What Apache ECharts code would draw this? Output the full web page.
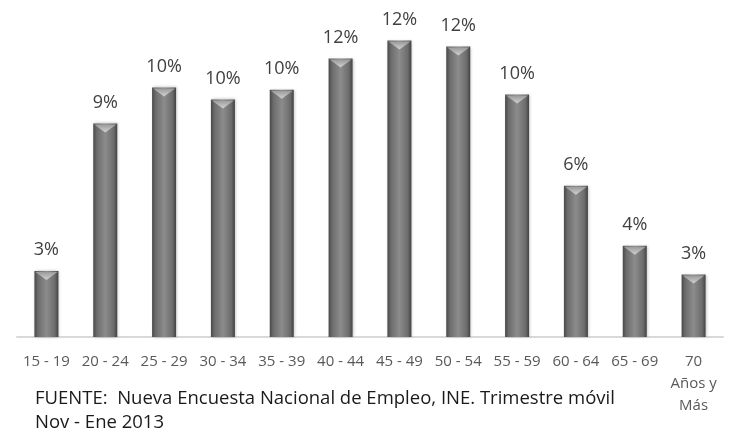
<!DOCTYPE html>
<html>
<head>
<meta charset="utf-8">
<script src="https://cdn.jsdelivr.net/npm/echarts@6/dist/echarts.min.js"></script>
<style>
  html, body { margin: 0; padding: 0; background: #fff; }
  #main { width: 736px; height: 436px; }
</style>
</head>
<body>
<div id="main"></div>
<script>
// datos
var grupos = ['15 - 19', '20 - 24', '25 - 29', '30 - 34', '35 - 39', '40 - 44',
              '45 - 49', '50 - 54', '55 - 59', '60 - 64', '65 - 69', '70\nAños y\nMás'];
var valores = [0.0275, 0.089, 0.104, 0.099, 0.103, 0.116, 0.1235, 0.121, 0.101, 0.063, 0.038, 0.026];
var fuente = ['FUENTE:  Nueva Encuesta Nacional de Empleo, INE. Trimestre móvil', 'Nov - Ene 2013'];

var chart = echarts.init(document.getElementById('main'));

var barColor = new echarts.graphic.LinearGradient(0, 0, 1, 0, [
    { offset: 0, color: '#484848' },
    { offset: 0.15, color: '#6c6c6c' },
    { offset: 0.5, color: '#8c8c8c' },
    { offset: 0.85, color: '#6c6c6c' },
    { offset: 1, color: '#424242' }
]);

var bevelColor = new echarts.graphic.LinearGradient(0, 0, 0, 1, [
    { offset: 0, color: '#d2d2d2' },
    { offset: 1, color: '#9a9a9a' }
]);

var option = {
    animation: false,
    grid: { left: 17, right: 13, top: 1, bottom: 99 },
    xAxis: {
        type: 'category',
        data: grupos,
        axisLine: { lineStyle: { color: '#d9d9d9', width: 2 } },
        axisTick: { show: false },
        axisLabel: {
            interval: 0,
            color: '#595959',
            fontFamily: 'Open Sans',
            fontSize: 15,
            lineHeight: 22,
            margin: 14,
            verticalAlign: 'top'
        }
    },
    yAxis: {
        type: 'value',
        min: 0,
        max: 0.14,
        show: false
    },
    series: [
        {
            type: 'bar',
            data: valores,
            barWidth: 24,
            itemStyle: {
                color: barColor,
                shadowColor: 'rgba(0,0,0,0.25)',
                shadowBlur: 3,
                shadowOffsetX: 1
            },
            label: {
                show: true,
                position: 'top',
                distance: 12,
                color: '#404040',
                fontFamily: 'Open Sans',
                fontSize: 18,
                formatter: function (p) {
                    return Math.round(p.value * 100) + '%';
                }
            }
        },
        {
            // bisel superior
            type: 'pictorialBar',
            data: valores,
            symbol: 'triangle',
            symbolRotate: 180,
            symbolSize: [22, 8],
            symbolPosition: 'end',
            symbolOffset: [0, 1],
            itemStyle: { color: bevelColor },
            z: 3
        }
    ],
    graphic: [
        {
            type: 'text',
            left: 35,
            top: 387,
            style: {
                text: fuente.join('\n'),
                fill: '#1a1a1a',
                font: '18.5px "Open Sans"',
                lineHeight: 24
            }
        }
    ]
};

chart.setOption(option);
</script>
</body>
</html>
